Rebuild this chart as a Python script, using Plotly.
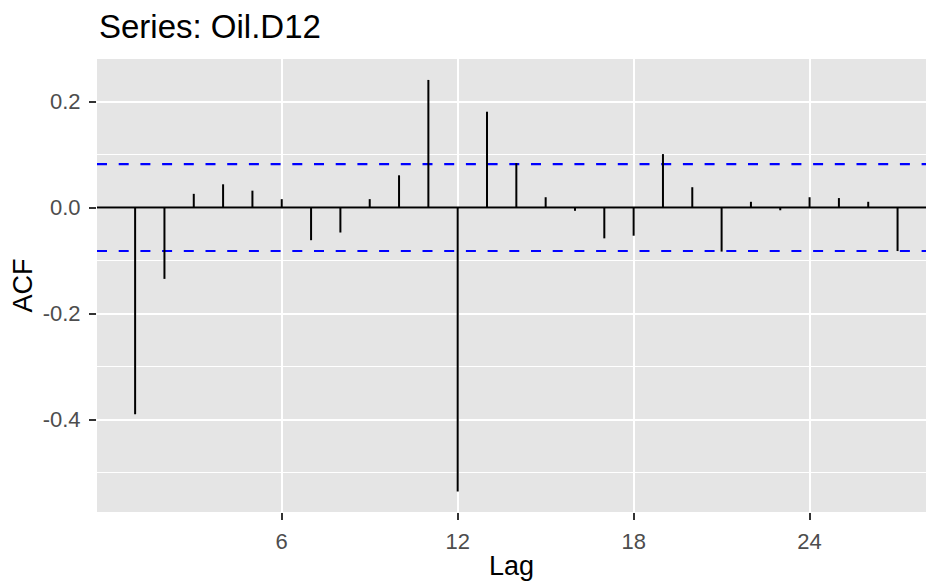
import plotly.graph_objects as go

# Sample autocorrelations of Oil.D12 for lags 1..27
lags = list(range(1, 28))
acf_values = [-0.390, -0.1345, 0.026, 0.044, 0.032, 0.016, -0.0615, -0.047, 0.016,
              0.061, 0.241, -0.536, 0.181, 0.084, 0.0196, -0.006, -0.058, -0.053,
              0.101, 0.0385, -0.083, 0.011, -0.005, 0.0196, 0.018, 0.011, -0.082]
conf_limit = 0.0819  # approximate 95% white-noise bound

x_ticks = [6, 12, 18, 24]
y_ticks = [-0.4, -0.2, 0.0, 0.2]
y_tick_text = ["-0.4", "-0.2", "0.0", "0.2"]
y_minor = [-0.5, -0.3, -0.1, 0.1]

x_range = [-0.3, 27.97]
y_range = [-0.5745, 0.2805]

W, H = 926, 583
ML, MR, MT, MB = 97, 0, 59, 71
FONT = "Liberation Sans, Arial, Helvetica, sans-serif"

# vertical spikes from 0 to each autocorrelation
seg_x, seg_y = [], []
for lag, v in zip(lags, acf_values):
    seg_x += [lag, lag, None]
    seg_y += [0, v, None]

fig = go.Figure()

# zero reference line
fig.add_trace(go.Scatter(x=x_range, y=[0, 0], mode="lines",
                         line=dict(color="black", width=2), hoverinfo="skip"))
# confidence bounds
for c in (conf_limit, -conf_limit):
    fig.add_trace(go.Scatter(x=x_range, y=[c, c], mode="lines",
                             line=dict(color="#0000FF", width=2.2, dash="10px,11.7px"),
                             hoverinfo="skip"))
# spikes
fig.add_trace(go.Scatter(x=seg_x, y=seg_y, mode="lines",
                         line=dict(color="black", width=2), hoverinfo="skip"))

fig.update_layout(
    width=W, height=H,
    margin=dict(l=ML, r=MR, t=MT, b=MB, pad=0),
    paper_bgcolor="white",
    plot_bgcolor="#E5E5E5",
    showlegend=False,
    font=dict(family=FONT),
    xaxis=dict(
        range=x_range, tickvals=x_ticks, ticktext=[str(t) for t in x_ticks],
        showgrid=True, gridcolor="white", gridwidth=2.2,
        zeroline=False, showline=False,
        ticks="outside", ticklen=7, tickwidth=2, tickcolor="#333333",
        tickfont=dict(size=22, color="#4D4D4D", family=FONT),
        ticklabelstandoff=3,
    ),
    yaxis=dict(
        range=y_range, tickvals=y_ticks, ticktext=y_tick_text,
        showgrid=True, gridcolor="white", gridwidth=2.2,
        zeroline=False, showline=False,
        ticks="outside", ticklen=7, tickwidth=2, tickcolor="#333333",
        tickfont=dict(size=22, color="#4D4D4D", family=FONT),
        ticklabelstandoff=4,
        minor=dict(tickvals=y_minor, showgrid=True, gridcolor="white",
                   gridwidth=1.1, ticks=""),
    ),
    annotations=[
        dict(text="Series: Oil.D12", xref="paper", yref="paper",
             x=0, y=1 + (MT - 26) / (H - MT - MB), xanchor="left", yanchor="middle",
             showarrow=False, font=dict(size=33, color="black", family=FONT)),
        dict(text="Lag", xref="x", yref="paper",
             x=13.85, y=-(566 - (H - MB)) / (H - MT - MB), xanchor="center", yanchor="middle",
             showarrow=False, font=dict(size=27, color="black", family=FONT)),
        dict(text="ACF", xref="paper", yref="paper",
             x=-(ML - 22) / (W - ML - MR), y=0.5, xanchor="center", yanchor="middle",
             textangle=-90, showarrow=False,
             font=dict(size=27, color="black", family=FONT)),
    ],
)

fig.write_html("out.html")
